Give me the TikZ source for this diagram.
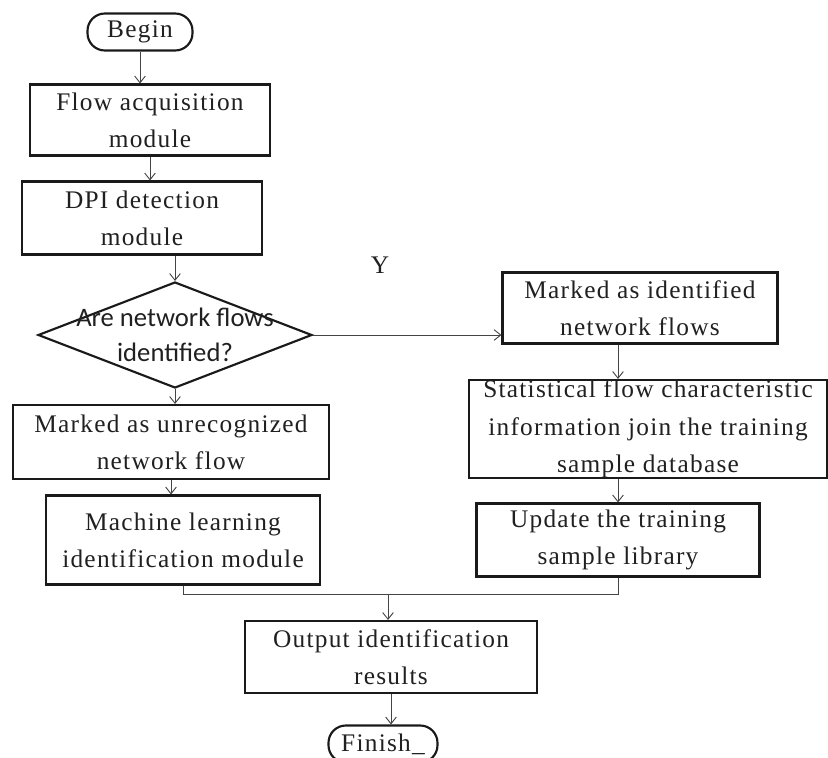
\documentclass[tikz,border=0pt]{standalone}
\usepackage{fontspec}
\setmainfont{Liberation Serif}[LetterSpace=5]
\newfontfamily\decfont{Carlito}
\usepackage{tikz}
\usetikzlibrary{positioning, shapes.geometric, arrows.meta, calc}
\usepackage{xcolor}
\definecolor{fcline}{HTML}{1A1A1A}
\definecolor{fcarrow}{HTML}{444444}
\definecolor{fctext}{HTML}{202020}

\begin{document}
\begin{tikzpicture}[x=0.75pt, y=-0.75pt, font=\fontsize{19}{28}\selectfont,
    box/.style={draw=fcline, line width=1.6pt, text=fctext, inner sep=0pt, align=center},
    term/.style={box, rounded corners=13pt},
    dec/.style={draw=fcline, line width=1.6pt, diamond, inner sep=0pt},
    arr/.style={fcarrow, line width=0.7pt, -{Straight Barb[length=5pt, width=8pt]}},
    ln/.style={fcarrow, line width=0.7pt}]
    \useasboundingbox (0,0) rectangle (828,757);
    % left column
    \node[term, minimum width=78.75pt, minimum height=27.75pt] (begin) at (140,32) {Begin};
    \node[box, minimum width=180pt, minimum height=53.25pt] (flow) at (150,120) {Flow acquisition\\ module};
    \node[box, minimum width=180pt, minimum height=54.75pt] (dpi) at (142,218) {DPI detection\\ module};
    \node[dec, minimum width=205.5pt, minimum height=79.5pt,
          label={[font=\decfont\fontsize{20}{26}\selectfont, text=fctext, align=center]center:Are network flows\\ identified?}]
          (check) at (175,335) {};
    \node[box, minimum width=237pt, minimum height=55.5pt] (unrec) at (171,442) {Marked as unrecognized\\ network flow};
    \node[box, minimum width=205.5pt, minimum height=66.75pt] (mlearn) at (183,540) {Machine learning\\ identification module};
    % right column
    \node[text=fctext] (yes) at (380,265) {Y};
    \node[box, minimum width=206.25pt, minimum height=53.25pt] (ident) at (640,308) {Marked as identified\\ network flows};
    \node[box, minimum width=268.5pt, minimum height=73.5pt] (stat) at (648,429) {Statistical flow characteristic\\ information join the training\\ sample database};
    \node[box, minimum width=212.25pt, minimum height=54.75pt] (update) at (618,540) {Update the training\\ sample library};
    % bottom
    \node[box, minimum width=219pt, minimum height=54pt] (output) at (391,657) {Output identification\\ results};
    \node[term, minimum width=81.75pt, minimum height=27.75pt] (finish) at (383,744) {Finish\_};
    \coordinate (merge) at (388,594);

    \draw[arr] (begin.south) -- (begin.south |- flow.north);
    \draw[arr] (flow.south) -- (flow.south |- dpi.north);
    \draw[arr] (check.north |- dpi.south) -- (check.north);
    \draw[arr] (check.south) -- (check.south |- unrec.north);
    \draw[arr] (unrec.south) -- (unrec.south |- mlearn.north);
    \draw[arr] (check.east) -- (check.east -| ident.west);
    \draw[arr] (update.north |- ident.south) -- (update.north |- stat.north);
    \draw[arr] (update.north |- stat.south) -- (update.north);
    \draw[ln] (mlearn.south) -- (mlearn.south |- merge) -- (update.south |- merge) -- (update.south);
    \draw[arr] (merge) -- (merge |- output.north);
    \draw[arr] (output.south) -- (output.south |- finish.north);
  \end{tikzpicture}
\end{document}
